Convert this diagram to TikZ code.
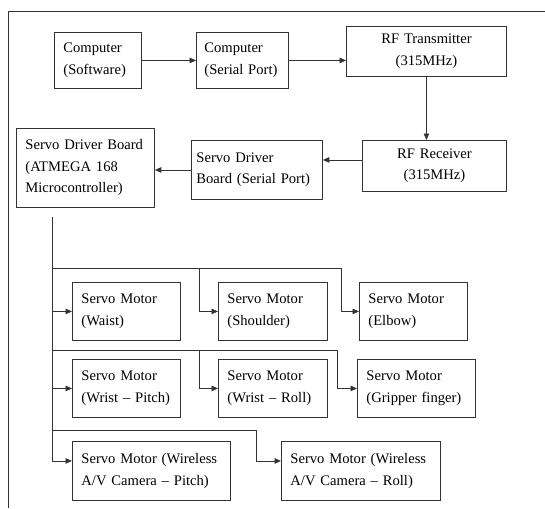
\documentclass[tikz,border=0pt]{standalone}
\usepackage{fontspec}
\setmainfont{Liberation Serif}
\usetikzlibrary{arrows.meta}
\tikzstyle{B} = [rectangle,draw,anchor=north west,inner xsep=9pt,inner ysep=2pt,align=left,font=\fontsize{14.6}{21.5}\selectfont]
\tikzstyle{C} = [B,align=center]
\tikzset{>={Triangle[length=6.5pt,width=5.5pt]}}

\begin{document}
\begin{tikzpicture}[x=1pt,y=-1pt,line width=0.9pt,draw=black!80]
  \useasboundingbox (0,0) rectangle (545,508);
  \draw (8,508) -- (8,11) -- (545,11);

  \node [B,text width=69pt,minimum height=56pt] (n1) at (54,32) {Computer\\(Software)};
  \node [B,text width=76pt,inner xsep=8pt,minimum height=56pt] (n2) at (196,32) {Computer\\(Serial Port)};
  \node [C,text width=142pt,minimum height=50pt] (n3) at (346,26) {RF Transmitter\\(315MHz)};
  \node [C,text width=126pt,minimum height=51pt] (n4) at (362,140) {RF Receiver\\(315MHz)};
  \node [B,text width=121pt,inner xsep=5pt,minimum height=59pt] (n5) at (191,140) {Servo Driver\\Board (Serial Port)};
  \node [B,text width=120pt,minimum height=79pt] (n6) at (16,128) {Servo Driver Board\\(ATMEGA 168\\Microcontroller)};
  \draw [->] (n1) -- (n2);
  \draw [->] (n2.east) -- (n2.east -| n3.west);
  \draw [->] (n3.south) -- (n3.south |- n4.north);
  \draw [->] ([yshift=6pt]n4.west) -- ([yshift=6pt]n4.west -| n5.east);
  \draw [->] (n5.west) -- (n5.west -| n6.east);

  \node [B,text width=90pt,minimum height=58pt] (n7) at (72,282) {Servo Motor\\(Waist)};
  \node [B,text width=91pt,minimum height=58pt] (n8) at (218,282) {Servo Motor\\(Shoulder)};
  \node [B,text width=90pt,minimum height=58pt] (n9) at (359,282) {Servo Motor\\(Elbow)};
  \node [B,text width=90pt,minimum height=58pt] (n10) at (72,359) {Servo Motor\\(Wrist -- Pitch)};
  \node [B,text width=91pt,minimum height=58pt] (n11) at (218,359) {Servo Motor\\(Wrist -- Roll)};
  \node [B,text width=100pt,minimum height=58pt] (n12) at (357,359) {Servo Motor\\(Gripper finger)};
  \node [B,text width=140pt,minimum height=59pt] (n13) at (72,441) {Servo Motor (Wireless\\A/V Camera -- Pitch)};
  \node [B,text width=141pt,minimum height=59pt] (n14) at (281,441) {Servo Motor (Wireless\\A/V Camera -- Roll)};

  \coordinate (c0) at (52,217);
  \coordinate (c1) at (52,268);
  \coordinate (c2) at (52,350);
  \coordinate (c3) at (52,430);
  \draw [->] (c0) |- ([yshift=10pt]n13.west);
  \draw [->] (c0 |- n7.west) -- (n7.west);
  \draw [->] (c1) -| ([xshift=-19pt]n8.west) -- (n8.west);
  \draw [->] (c1) -| ([xshift=-18pt]n9.west) -- (n9.west);
  \draw [->] (c0 |- n10.west) -- (n10.west);
  \draw [->] (c2) -| ([xshift=-19pt]n11.west) -- (n11.west);
  \draw [->] (c2) -| ([xshift=-20pt]n12.west) -- (n12.west);
  \draw [->] (c3) -| ([xshift=-25pt,yshift=10pt]n14.west) -- ([yshift=10pt]n14.west);

\end{tikzpicture}
\end{document}
